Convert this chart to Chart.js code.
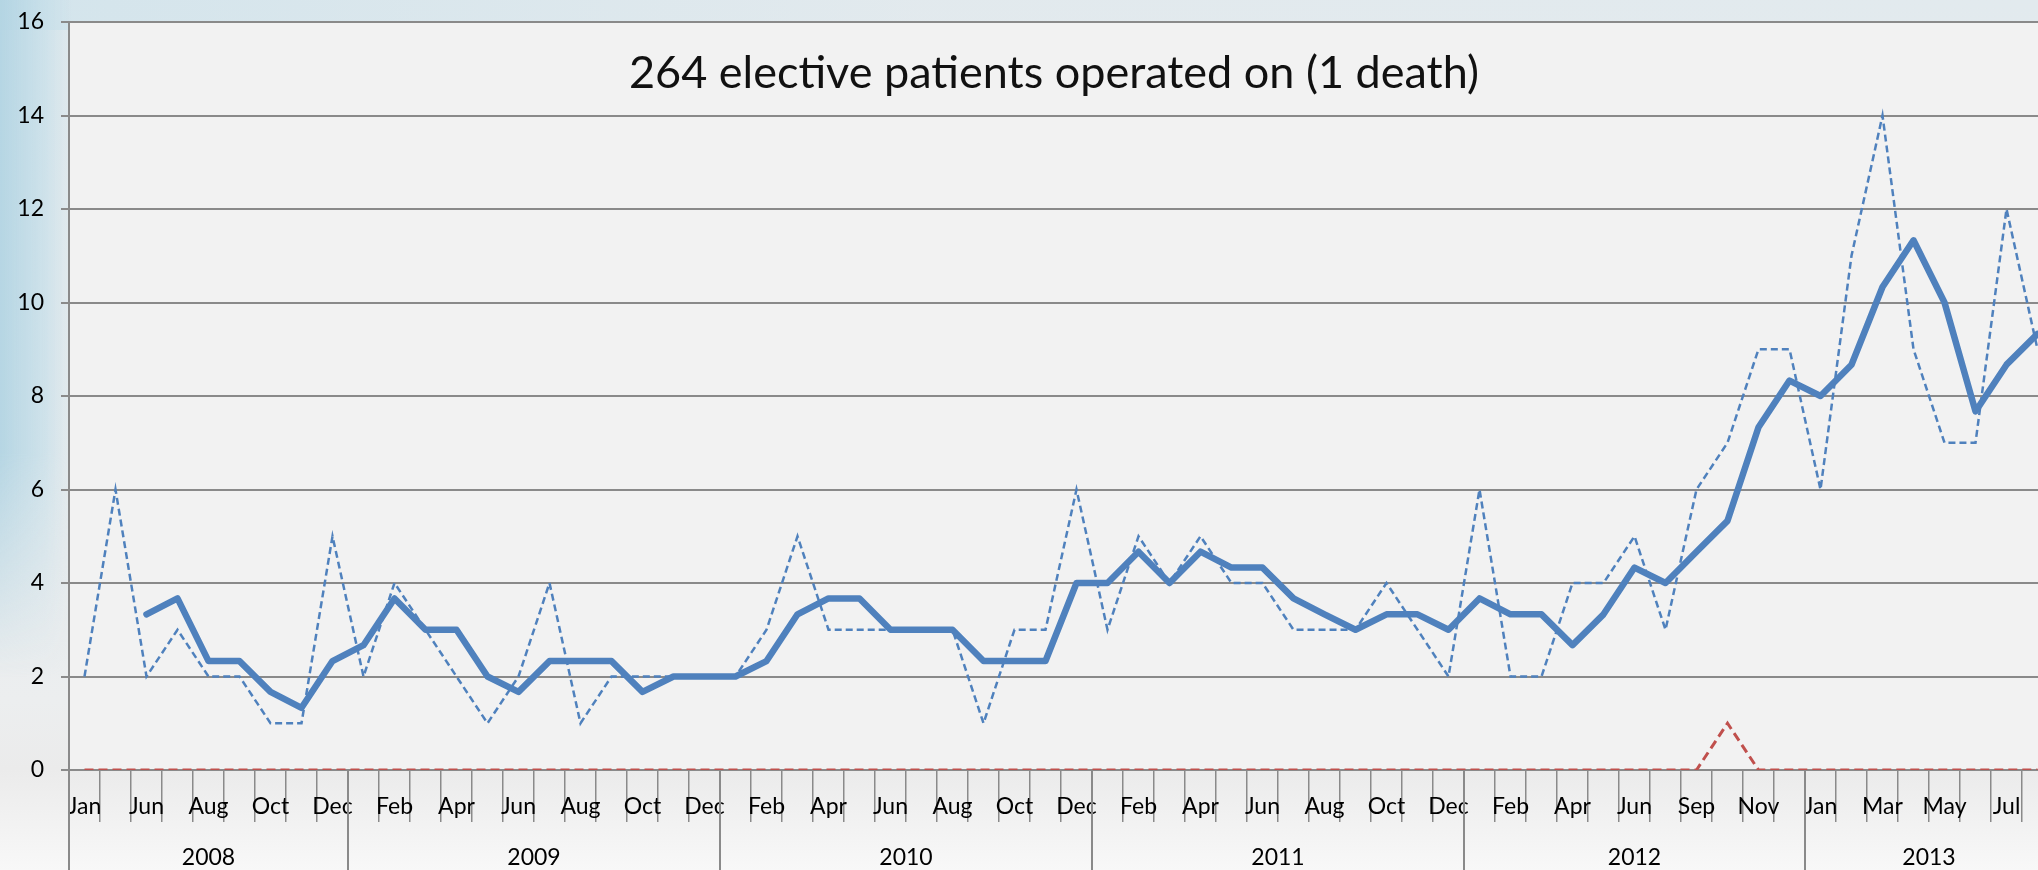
<!DOCTYPE html>
<html>
<head>
<meta charset="utf-8">
<script src="https://cdn.jsdelivr.net/npm/chart.js@4.4.1/dist/chart.umd.min.js"></script>
<style>
  html, body { margin: 0; padding: 0; }
  body {
    position: relative;
    width: 2038px; height: 870px; overflow: hidden;
    background:
      linear-gradient(90deg, rgba(205,226,235,0.7) 0%, rgba(226,233,237,0.4) 45%, rgba(232,234,236,0) 100%) 0 0 / 100% 30px no-repeat,
      linear-gradient(180deg, #e2eaee 0px, #e8ecee 560px, #eceeef 700px, #ebebeb 770px, #f8f8f8 870px);
  }
  #strip {
    position: absolute; left: 0; top: 0; width: 90px; height: 870px;
    background: linear-gradient(90deg, rgba(176,211,226,0.9) 0px, rgba(194,221,232,0.65) 45px, rgba(214,230,237,0) 72px);
    -webkit-mask-image: linear-gradient(180deg, #000 0%, #000 52%, transparent 78%);
    mask-image: linear-gradient(180deg, #000 0%, #000 52%, transparent 78%);
  }
  #wrap { position: relative; width: 2038px; height: 870px; overflow: hidden; }
</style>
</head>
<body>
<div id="strip"></div>
<div id="wrap"><canvas id="chart" width="2056" height="870"></canvas></div>
<script>
const titleText = '264 elective patients operated on (1 death)';

const years = ['2008', '2009', '2010', '2011', '2012', '2013'];
const monthsPerYear = [9, 12, 12, 12, 11, 8];

const months = [
    'Jan', 'May', 'Jun', 'Jul', 'Aug', 'Sep', 'Oct', 'Nov', 'Dec',
    'Jan', 'Feb', 'Mar', 'Apr', 'May', 'Jun', 'Jul', 'Aug', 'Sep', 'Oct', 'Nov', 'Dec',
    'Jan', 'Feb', 'Mar', 'Apr', 'May', 'Jun', 'Jul', 'Aug', 'Sep', 'Oct', 'Nov', 'Dec',
    'Jan', 'Feb', 'Mar', 'Apr', 'May', 'Jun', 'Jul', 'Aug', 'Sep', 'Oct', 'Nov', 'Dec',
    'Jan', 'Feb', 'Mar', 'Apr', 'May', 'Jun', 'Jul', 'Sep', 'Oct', 'Nov', 'Dec',
    'Jan', 'Feb', 'Mar', 'Apr', 'May', 'Jun', 'Jul', 'Aug'
];

// patients operated on each month (dashed blue)
const patients = [
    2, 6, 2, 3, 2, 2, 1, 1, 5,
    2, 4, 3, 2, 1, 2, 4, 1, 2, 2, 2, 2,
    2, 3, 5, 3, 3, 3, 3, 3, 1, 3, 3, 6,
    3, 5, 4, 5, 4, 4, 3, 3, 3, 4, 3, 2,
    6, 2, 2, 4, 4, 5, 3, 6, 7, 9, 9,
    6, 11, 14, 9, 7, 7, 12, 9
];

// 3 month average (solid blue)
const average = [
    null, null, 3.33, 3.67, 2.33, 2.33, 1.67, 1.33, 2.33,
    2.67, 3.67, 3, 3, 2, 1.67, 2.33, 2.33, 2.33, 1.67, 2, 2,
    2, 2.33, 3.33, 3.67, 3.67, 3, 3, 3, 2.33, 2.33, 2.33, 4,
    4, 4.67, 4, 4.67, 4.33, 4.33, 3.67, 3.33, 3, 3.33, 3.33, 3,
    3.67, 3.33, 3.33, 2.67, 3.33, 4.33, 4, 4.67, 5.33, 7.33, 8.33,
    8, 8.67, 10.33, 11.33, 10, 7.67, 8.67, 9.33
];

// deaths (dashed red)
const deaths = [
    0, 0, 0, 0, 0, 0, 0, 0, 0,
    0, 0, 0, 0, 0, 0, 0, 0, 0, 0, 0, 0,
    0, 0, 0, 0, 0, 0, 0, 0, 0, 0, 0, 0,
    0, 0, 0, 0, 0, 0, 0, 0, 0, 0, 0, 0,
    0, 0, 0, 0, 0, 0, 0, 0, 1, 0, 0,
    0, 0, 0, 0, 0, 0, 0, 0
];

// year group edges and centres, in category units
const yearEdges = [0];
monthsPerYear.forEach(n => yearEdges.push(yearEdges[yearEdges.length - 1] + n));
const yearMids = years.map((y, i) => (yearEdges[i] + yearEdges[i + 1]) / 2);

const axisGrey = '#8a8a8a';
const labelFont = { family: 'Lato', size: 23 };

const plotBackground = {
    id: 'plotBackground',
    beforeDraw(chart) {
        const { ctx, chartArea: a } = chart;
        ctx.save();
        ctx.fillStyle = '#f2f2f2';
        ctx.fillRect(a.left, a.top, a.right - a.left, a.bottom - a.top);
        ctx.restore();
    }
};

const yearSeparators = {
    id: 'yearSeparators',
    afterDraw(chart) {
        const { ctx, chartArea: a } = chart;
        const x2 = chart.scales.x2;
        ctx.save();
        ctx.strokeStyle = axisGrey;
        ctx.lineWidth = 2;
        yearEdges.forEach(e => {
            const px = Math.round(x2.getPixelForValue(e));
            ctx.beginPath();
            ctx.moveTo(px, a.bottom);
            ctx.lineTo(px, chart.height);
            ctx.stroke();
        });
        ctx.restore();
    }
};

const innerTitle = {
    id: 'innerTitle',
    afterDraw(chart) {
        const { ctx, chartArea: a } = chart;
        ctx.save();
        ctx.fillStyle = '#111';
        ctx.font = '45px Lato';
        ctx.textAlign = 'center';
        ctx.textBaseline = 'middle';
        ctx.fillText(titleText, (a.left + a.right) / 2 - 7, a.top + 51);
        ctx.restore();
    }
};

new Chart(document.getElementById('chart'), {
    type: 'line',
    data: {
        labels: months,
        datasets: [{
            label: '3 month average',
            data: average,
            borderColor: '#4f81bd',
            borderWidth: 6.5,
            borderJoinStyle: 'round',
            borderCapStyle: 'round',
            pointRadius: 0,
            order: 0
        }, {
            label: 'Patients',
            data: patients,
            borderColor: '#4f81bd',
            borderWidth: 2.5,
            borderDash: [7, 4],
            pointRadius: 0,
            order: 1
        }, {
            label: 'Deaths',
            data: deaths,
            borderColor: '#c0504d',
            borderWidth: 3,
            borderDash: [9, 5],
            pointRadius: 0,
            order: 2
        }]
    },
    options: {
        responsive: false,
        animation: false,
        layout: { padding: { top: 22, right: 3, left: 0, bottom: 0 } },
        plugins: {
            legend: { display: false },
            tooltip: { enabled: false },
            title: { display: false }
        },
        scales: {
            x: {
                type: 'category',
                position: 'bottom',
                weight: 0,
                offset: true,
                grid: {
                    offset: true,
                    drawOnChartArea: false,
                    drawTicks: true,
                    tickLength: 52,
                    color: axisGrey,
                    lineWidth: 1.5
                },
                border: { display: true, color: axisGrey, width: 2 },
                ticks: {
                    autoSkip: false,
                    maxRotation: 0,
                    minRotation: 0,
                    padding: -29,
                    color: '#000',
                    font: labelFont,
                    callback: (v, i) => (i % 2 === 0 ? months[i] : '')
                },
                afterFit: s => { s.height = 62; }
            },
            x2: {
                type: 'linear',
                position: 'bottom',
                weight: 1,
                min: 0,
                max: yearEdges[yearEdges.length - 1],
                grid: { display: false, drawTicks: false },
                border: { display: false },
                ticks: {
                    autoSkip: false,
                    maxRotation: 0,
                    padding: 12,
                    color: '#000',
                    font: labelFont,
                    callback: (v, i) => years[i]
                },
                afterBuildTicks: s => { s.ticks = yearMids.map(v => ({ value: v })); },
                afterFit: s => { s.height = 38; }
            },
            y: {
                min: 0,
                max: 16,
                ticks: {
                    stepSize: 2,
                    padding: 17,
                    color: '#000',
                    font: labelFont
                },
                grid: { color: axisGrey, lineWidth: 2, tickLength: 8 },
                border: { color: axisGrey, width: 2 },
                afterFit: s => { s.width = 69; s.paddingTop = 0; s.paddingBottom = 0; }
            }
        }
    },
    plugins: [plotBackground, yearSeparators, innerTitle]
});
</script>
</body>
</html>
